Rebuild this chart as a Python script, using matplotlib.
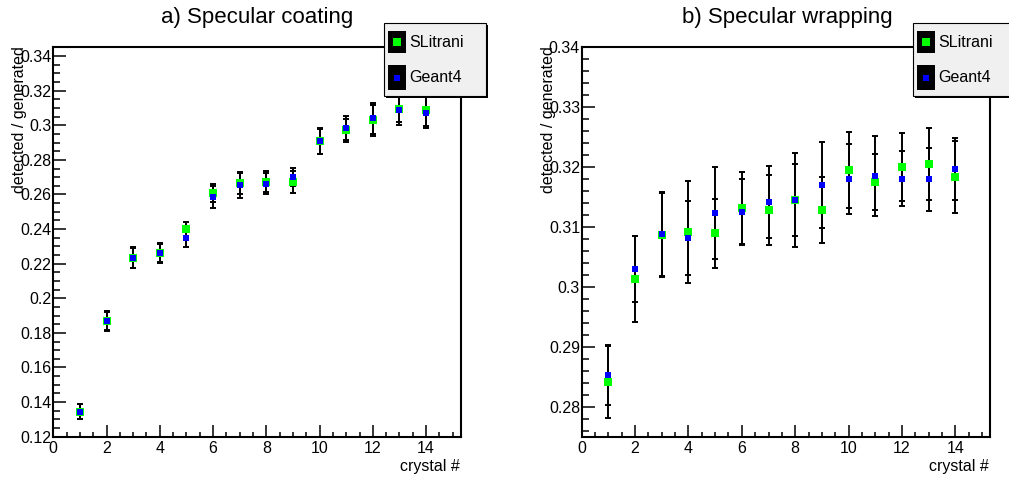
import numpy as np
import matplotlib
matplotlib.use("Agg")
import matplotlib.pyplot as plt
from matplotlib.patches import Rectangle
from matplotlib.ticker import MultipleLocator, FormatStrFormatter

plt.rcParams['font.family'] = ['Liberation Sans', 'DejaVu Sans']

crystal = np.arange(1, 15)

# a) specular coating
coat_slit = [0.1345, 0.1870, 0.2235, 0.2260, 0.2398, 0.2608, 0.2666, 0.2674, 0.2672,
             0.2907, 0.2971, 0.3028, 0.3096, 0.3086]
coat_slit_err = [0.0042, 0.0055, 0.0058, 0.0052, 0.0040, 0.0052, 0.0066, 0.0062, 0.0066,
                 0.0072, 0.0068, 0.0090, 0.0080, 0.0090]
coat_g4 = [0.1345, 0.1867, 0.2235, 0.2261, 0.2350, 0.2585, 0.2653, 0.2662, 0.2701,
           0.2907, 0.2984, 0.3040, 0.3086, 0.3073]
coat_g4_err = [0.0043, 0.0056, 0.0060, 0.0058, 0.0052, 0.0063, 0.0072, 0.0060, 0.0050,
               0.0075, 0.0070, 0.0088, 0.0082, 0.0088]

# b) specular wrapping
wrap_slit = [0.2841, 0.3013, 0.3087, 0.3092, 0.3089, 0.3132, 0.3128, 0.3145, 0.3128,
             0.3195, 0.3175, 0.3200, 0.3205, 0.3183]
wrap_slit_err = [0.0060, 0.0071, 0.0070, 0.0085, 0.0057, 0.0060, 0.0058, 0.0078, 0.0055,
                 0.0063, 0.0047, 0.0057, 0.0060, 0.0060]
wrap_g4 = [0.2853, 0.3029, 0.3088, 0.3081, 0.3123, 0.3125, 0.3142, 0.3145, 0.3170,
           0.3180, 0.3185, 0.3180, 0.3179, 0.3196]
wrap_g4_err = [0.0050, 0.0055, 0.0070, 0.0062, 0.0076, 0.0055, 0.0060, 0.0060, 0.0072,
               0.0058, 0.0067, 0.0046, 0.0053, 0.0052]

titles = ["a) Specular coating", "b) Specular wrapping"]
series_names = ["SLitrani", "Geant4"]
green = "#00ff00"
blue = "#0000ff"

W, H = 1009, 479
fig = plt.figure(figsize=(W / 100, H / 100), dpi=100)


def fbox(x0, y0, x1, y1):
    return [x0 / W, 1 - y1 / H, (x1 - x0) / W, (y1 - y0) / H]


def panel(rect, s1, e1, s2, e2, ylim, ymaj, ymin):
    ax = fig.add_axes(rect)
    ax.errorbar(crystal, s1, yerr=e1, fmt="none", ecolor="black", elinewidth=1.4,
                capsize=2.2, capthick=1.4, zorder=2)
    ax.errorbar(crystal, s2, yerr=e2, fmt="none", ecolor="black", elinewidth=1.4,
                capsize=2.2, capthick=1.4, zorder=2)
    ax.plot(crystal, s1, "s", color=green, ms=6.3, mew=0, zorder=3)
    ax.plot(crystal, s2, "s", color=blue, ms=4.6, mew=0, zorder=4)
    ax.set_xlim(0, 15.3)
    ax.set_ylim(*ylim)
    ax.xaxis.set_major_locator(MultipleLocator(2))
    ax.xaxis.set_minor_locator(MultipleLocator(0.5))
    ax.yaxis.set_major_locator(MultipleLocator(ymaj))
    ax.yaxis.set_minor_locator(MultipleLocator(ymin))
    ax.yaxis.set_major_formatter(FormatStrFormatter("%g"))
    ax.tick_params(which="both", direction="in", width=1.1, labelsize=11.5,
                   top=False, right=False)
    ax.tick_params(axis="x", which="major", length=8.5, pad=3)
    ax.tick_params(axis="x", which="minor", length=3.8)
    ax.tick_params(axis="y", which="major", length=9, pad=1.2)
    ax.tick_params(axis="y", which="minor", length=4.8)
    for sp in ax.spines.values():
        sp.set_linewidth(1.5)
    return ax


ax1 = panel(fbox(53.3, 46.7, 460.7, 436.7), coat_slit, coat_slit_err, coat_g4, coat_g4_err,
            (0.12, 0.3454), 0.02, 0.005)
ax2 = panel(fbox(581.7, 46.7, 990, 436.7), wrap_slit, wrap_slit_err, wrap_g4, wrap_g4_err,
            (0.275, 0.34), 0.01, 0.002)

# titles and axis labels
fig.text(257 / W, 1 - 22.7 / H, titles[0], fontsize=16, ha="center", va="baseline")
fig.text(787 / W, 1 - 22.7 / H, titles[1], fontsize=16, ha="center", va="baseline")
for xl, xr in [(19.5, 459.5), (549, 988.5)]:
    fig.text(xl / W, 1 - 46 / H, "detected / generated", fontsize=11.5, rotation=90,
             ha="center", va="top")
    fig.text(xr / W, 1 - 471 / H, "crystal #", fontsize=11.5, ha="right", va="baseline")

# legends (ROOT style box with shadow)
for bx in [384.3, 913.3]:
    fig.patches.append(Rectangle((fbox(bx + 2, 24.7, bx + 104, 98)[0], fbox(bx + 2, 24.7, bx + 104, 98)[1]),
                                 102 / W, 73.3 / H, transform=fig.transFigure,
                                 facecolor="black", edgecolor="none", zorder=5))
    r = fbox(bx, 22.7, bx + 102, 96)
    fig.patches.append(Rectangle((r[0], r[1]), r[2], r[3], transform=fig.transFigure,
                                 facecolor="#f0f0f0", edgecolor="black", lw=0.8, zorder=6))
    for (y0, y1), name, col, ms in [((31.3, 53.3), series_names[0], green, 6.3),
                                    ((65.3, 90.0), series_names[1], blue, 4.6)]:
        s = fbox(bx + 3.6, y0, bx + 21.4, y1)
        fig.patches.append(Rectangle((s[0], s[1]), s[2], s[3], transform=fig.transFigure,
                                     facecolor="black", edgecolor="none", zorder=7))
        fig.lines.append(plt.Line2D([(bx + 12.5) / W], [1 - (y0 + y1) / 2 / H], marker="s",
                                    color=col, ms=ms, mew=0, transform=fig.transFigure,
                                    zorder=8))
        fig.text((bx + 24.7) / W, 1 - (y0 + y1) / 2 / H, name, fontsize=11.5,
                 ha="left", va="center", zorder=9)

fig.savefig("out.png", dpi=100)
